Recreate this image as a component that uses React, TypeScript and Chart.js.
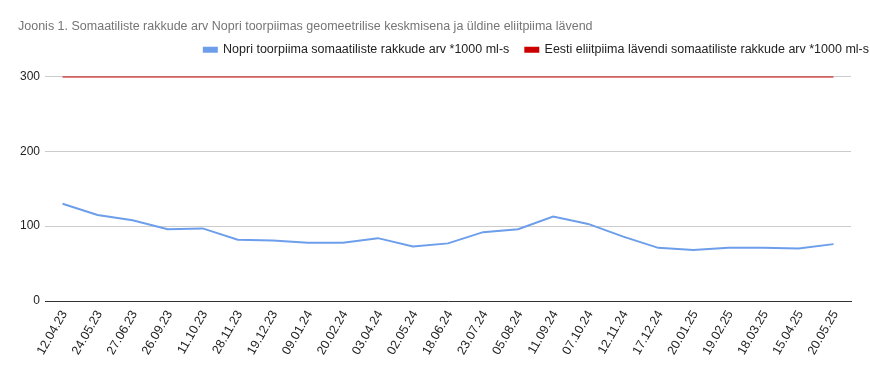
import React, { useEffect, useRef } from "react";
import { Chart, registerables } from "chart.js";

Chart.register(...registerables);

const titleText = "Joonis 1. Somaatiliste rakkude arv Nopri toorpiimas geomeetrilise keskmisena ja üldine eliitpiima lävend";
const labels = [
  "12.04.23", "24.05.23", "27.06.23", "26.09.23", "11.10.23", "28.11.23", "19.12.23", "09.01.24",
  "20.02.24", "03.04.24", "02.05.24", "18.06.24", "23.07.24", "05.08.24", "11.09.24", "07.10.24",
  "12.11.24", "17.12.24", "20.01.25", "19.02.25", "18.03.25", "15.04.25", "20.05.25",
];
const nopriName = "Nopri toorpiima somaatiliste rakkude arv *1000 ml-s";
const nopriValues = [130, 115, 108, 96, 97, 82, 81, 78, 78, 84, 73, 77, 92, 96, 113, 103, 86, 71, 68, 71, 71, 70, 76];
const eliteName = "Eesti eliitpiima lävendi somaatiliste rakkude arv *1000 ml-s";
const eliteValues = labels.map(() => 300);
const yTicks = [0, 100, 200, 300];

const legendTweak = {
  id: "legendTweak",
  beforeInit(chart: any) {
    const legend = chart.legend;
    if (!legend) return;
    const origFit = legend.fit;
    legend.fit = function () {
      origFit.bind(legend)();
      this.height += 2.5;
    };
    const origDraw = legend.draw;
    legend.draw = function () {
      const ctx = chart.ctx;
      ctx.save();
      ctx.translate(17, -8);
      origDraw.bind(legend)();
      ctx.restore();
    };
  },
};

export default function App() {
  const ref = useRef<HTMLCanvasElement | null>(null);
  useEffect(() => {
    if (!ref.current) return;
    const font = "Arial, 'Liberation Sans', sans-serif";
    const chart = new Chart(ref.current, {
      type: "line",
      plugins: [legendTweak],
      data: {
        labels,
        datasets: [
          {
            label: nopriName,
            data: nopriValues,
            borderColor: "#6d9eeb",
            backgroundColor: "#6d9eeb",
            borderWidth: 2,
            pointRadius: 0,
            tension: 0,
            yAxisID: "y",
          },
          {
            label: eliteName,
            data: eliteValues,
            borderColor: "#cc0000",
            backgroundColor: "#cc0000",
            borderWidth: 2,
            pointRadius: 0,
            tension: 0,
            yAxisID: "y",
          },
        ],
      },
      options: {
        animation: false,
        responsive: false,
        maintainAspectRatio: false,
        layout: { padding: { left: 18, right: 2, top: 4, bottom: 0 } },
        plugins: {
          title: {
            display: true,
            text: titleText,
            align: "start",
            color: "#757575",
            font: { family: font, size: 12.5, weight: "normal" },
            padding: { top: 15.5, bottom: 1 },
          },
          legend: {
            display: true,
            align: "end",
            labels: {
              color: "#222222",
              font: { family: font, size: 12.5 },
              boxWidth: 13,
              boxHeight: 4,
              padding: 16,
            },
          },
          tooltip: { enabled: false },
        },
        scales: {
          x: {
            offset: true,
            grid: { display: false, drawTicks: false },
            border: { display: true, color: "#333333", width: 1 },
            afterFit: (s: any) => {
              s.height = 70;
            },
            ticks: {
              color: "#222222",
              font: { family: font, size: 12.5 },
              minRotation: 60,
              maxRotation: 60,
              autoSkip: false,
              padding: 7,
              labelOffset: 2,
            },
          },
          y: {
            min: 0,
            max: 300,
            afterBuildTicks: (axis: any) => {
              axis.ticks = yTicks.map((v) => ({ value: v }));
            },
            afterFit: (s: any) => {
              s.width = 27;
            },
            grid: { color: "#cccccc", drawTicks: false },
            border: { display: false },
            ticks: {
              color: "#222222",
              font: { family: font, size: 12 },
              padding: 5,
            },
          },
          yRight: {
            position: "right",
            min: 0,
            max: 300,
            grid: { display: false, drawTicks: false },
            border: { display: false },
            ticks: { display: false },
            afterFit: (s: any) => {
              s.width = 17;
            },
          },
        },
      },
    });
    return () => chart.destroy();
  }, []);
  return (
    <div style={{ position: "fixed", left: 0, top: 0, width: 870, height: 371, background: "#fff" }}>
      <canvas ref={ref} width={870} height={371} style={{ width: 870, height: 371 }} />
    </div>
  );
}
